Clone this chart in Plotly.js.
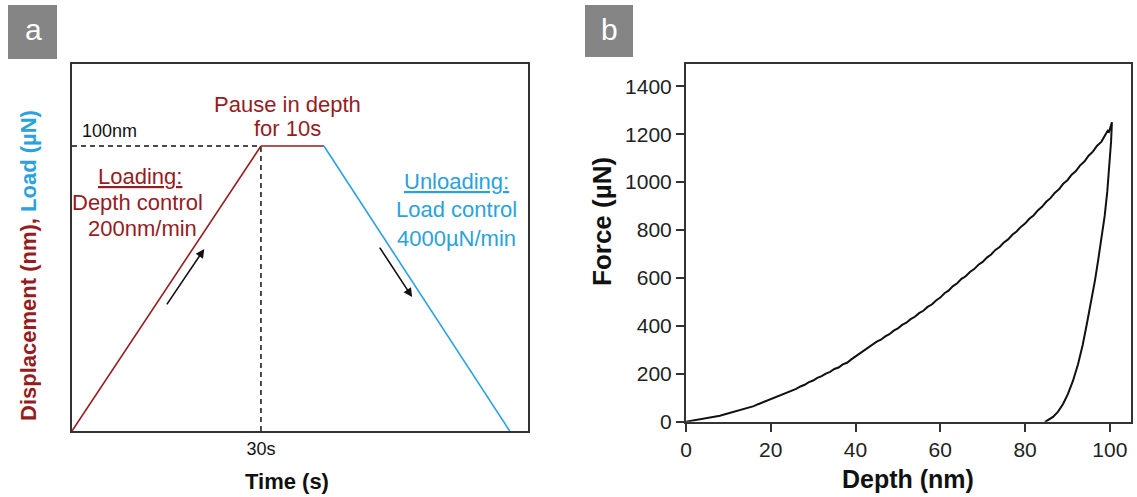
<!DOCTYPE html>
<html>
<head>
<meta charset="utf-8">
<script src="https://cdn.plot.ly/plotly-3.0.1.min.js"></script>
<style>html,body{margin:0;padding:0;background:#fff;}#chart{width:1137px;height:497px;}</style>
</head>
<body>
<div id="chart"></div>
<script>
// ---- Panel a: schematic loading protocol ----
const timeLoad = [0, 30];
const dispLoad = [0, 100];
const timeHold = [30, 40];
const dispHold = [100, 100];
const timeUnload = [40, 69.5];
const dispUnload = [100, 0];
const refTime = 30;
const refDisp = 100;
const timeTickVals = [30];
const timeTickText = ['30s'];
// arrows: [tailT, tailD, headT, headD]
const arrowLoading = [14.9, 43.9, 21.0, 63.9];
const arrowUnloading = [48.7, 64.9, 54.0, 47.0];

// ---- Panel b: force-depth curve ----
const depthLoading = [0,1,2,3,4,5,6,7,8,9,10,11,12,13,14,15,16,17,18,19,20,21,22,23,24,25,26,27,28,29,30,31,32,33,34,35,36,37,38,39,40,41,42,43,44,45,46,47,48,49,50,51,52,53,54,55,56,57,58,59,60,61,62,63,64,65,66,67,68,69,70,71,72,73,74,75,76,77,78,79,80,81,82,83,84,85,86,87,88,89,90,91,92,93,94,95,96,97,98,99,99.5,99.8,100.2,100.5];
const forceLoading = [0,3,5,9,11,15,16,20,25,30,35,37,42,48,53,60,65,73,80,89,95,104,109,118,122,131,137,147,154,165,172,183,190,201,208,220,226,239,246,260,272,286,295,310,319,334,342,356,365,380,389,404,413,428,438,453,463,479,489,506,518,536,548,566,578,596,607,625,637,655,667,685,698,717,729,748,761,780,794,813,827,847,861,882,897,918,933,955,970,993,1008,1031,1046,1070,1086,1110,1127,1152,1168,1195,1214,1210,1236,1250];
const depthUnloading = [100.5,100.3,99.9,99.4,98.8,98.1,97.3,96.5,95.6,94.6,93.6,92.5,91.3,90.1,89.0,87.8,86.6,85.6,84.9,84.6];
const forceUnloading = [1250,1170,1060,960,860,770,680,590,500,410,320,240,170,115,75,42,20,7,1,0];
const depthTicks = [0,20,40,60,80,100];
const forceTicks = [0,200,400,600,800,1000,1200,1400];

const W = 1137, H = 497;
const fx = p => p / W;
const fy = p => 1 - p / H;

const RED = '#961d1f';
const BLUE = '#2ba2dc';
const FONT = 'Liberation Sans, Arial, sans-serif';

const traces = [
  {x: [0, refTime], y: [refDisp, refDisp], xaxis: 'x', yaxis: 'y', mode: 'lines',
   line: {color: '#111', width: 1.5, dash: '5px,4px'}},
  {x: [refTime, refTime], y: [0, refDisp], xaxis: 'x', yaxis: 'y', mode: 'lines',
   line: {color: '#111', width: 1.5, dash: '5px,4px'}},
  {x: timeLoad, y: dispLoad, xaxis: 'x', yaxis: 'y', mode: 'lines', line: {color: RED, width: 1.6}},
  {x: timeHold, y: dispHold, xaxis: 'x', yaxis: 'y', mode: 'lines', line: {color: RED, width: 1.6}},
  {x: timeUnload, y: dispUnload, xaxis: 'x', yaxis: 'y', mode: 'lines', line: {color: BLUE, width: 1.6}},
  {x: depthLoading.concat(depthUnloading), y: forceLoading.concat(forceUnloading),
   xaxis: 'x2', yaxis: 'y2', mode: 'lines', line: {color: '#111', width: 2}}
];

function txt(text, x, y, size, color, extra) {
  return Object.assign({text: text, xref: 'paper', yref: 'paper', x: fx(x), y: fy(y),
    xanchor: 'center', yanchor: 'middle', showarrow: false,
    font: {family: FONT, size: size, color: color}}, extra || {});
}

function arrow(a) {
  return {xref: 'x', yref: 'y', axref: 'x', ayref: 'y', x: a[2], y: a[3], ax: a[0], ay: a[1],
    text: '', showarrow: true, arrowhead: 2, arrowsize: 1.1, arrowwidth: 1.6, arrowcolor: '#111'};
}

const annotations = [
  txt('a', 33, 30, 30, '#ffffff'),
  txt('b', 609, 29, 30, '#ffffff'),
  txt('Pause in depth', 287, 105, 22, RED),
  txt('for 10s', 287, 128, 22, RED),
  txt('100nm', 109, 131, 18, '#111'),
  txt('<u>Loading:</u>', 140, 176, 22, RED),
  txt('Depth control', 137, 202, 22, RED),
  txt('200nm/min', 142, 228, 22, RED),
  txt('<u>Unloading:</u>', 456, 182, 22, BLUE),
  txt('Load control', 456, 209, 22, BLUE),
  txt('4000\u00b5N/min', 456, 239, 22, BLUE),
  txt('<b><span style="color:' + RED + '">Displacement (nm),</span> <span style="color:' + BLUE + '">Load (\u00b5N)</span></b>',
      28, 266, 22, RED, {textangle: -90}),
  txt('<b>Time (s)</b>', 287, 481, 22, '#111'),
  txt('<b>Force (\u00b5N)</b>', 602, 222, 26, '#111', {textangle: -90}),
  txt('<b>Depth (nm)</b>', 908, 479, 25, '#111'),
  arrow(arrowLoading),
  arrow(arrowUnloading)
];

const shapes = [
  {type: 'rect', xref: 'paper', yref: 'paper', x0: fx(8), x1: fx(57), y0: fy(59), y1: fy(5),
   fillcolor: '#858585', line: {width: 0}},
  {type: 'rect', xref: 'paper', yref: 'paper', x0: fx(585), x1: fx(633), y0: fy(57), y1: fy(5),
   fillcolor: '#858585', line: {width: 0}}
];

const axBase = {showgrid: false, zeroline: false, showline: true, mirror: true,
  linecolor: '#333', linewidth: 2};

const layout = {
  width: W, height: H, margin: {l: 0, r: 0, t: 0, b: 0},
  paper_bgcolor: '#fff', plot_bgcolor: '#fff', showlegend: false,
  font: {family: FONT, color: '#111'},
  xaxis: Object.assign({}, axBase, {domain: [fx(72), fx(528)], range: [0, 72.4], anchor: 'y',
    tickvals: timeTickVals, ticktext: timeTickText, ticks: '', tickfont: {size: 18, color: '#111'}}),
  yaxis: Object.assign({}, axBase, {domain: [fy(431), fy(64)], range: [0, 128.8], anchor: 'x',
    showticklabels: false, ticks: ''}),
  xaxis2: Object.assign({}, axBase, {domain: [fx(686), fx(1131)], range: [0, 105], anchor: 'y2',
    tickvals: depthTicks, ticks: 'outside', ticklen: 8, tickwidth: 2, tickcolor: '#333',
    tickfont: {size: 21, color: '#222'}}),
  yaxis2: Object.assign({}, axBase, {domain: [fy(421.7), fy(64)], range: [0, 1493], anchor: 'x2',
    tickvals: forceTicks, ticks: 'outside', ticklen: 8, tickwidth: 2, tickcolor: '#333',
    tickfont: {size: 21, color: '#222'}}),
  annotations: annotations,
  shapes: shapes
};

Plotly.newPlot('chart', traces, layout, {staticPlot: true, displayModeBar: false});
</script>
</body>
</html>
